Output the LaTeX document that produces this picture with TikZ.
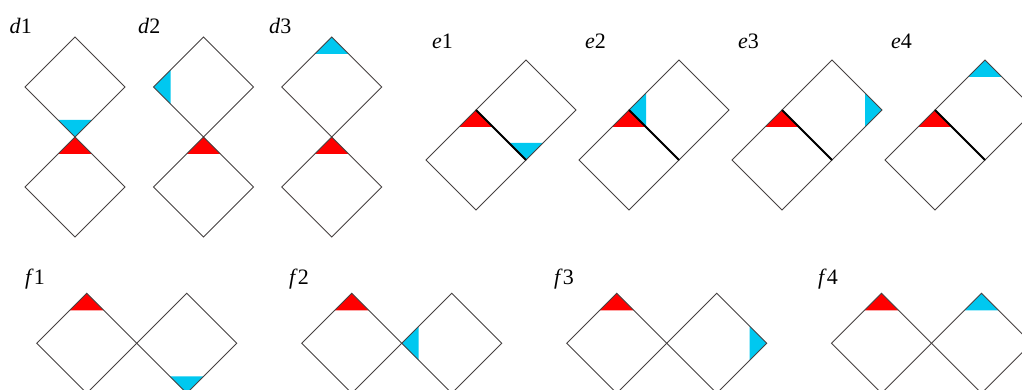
\documentclass[tikz,border=0pt]{standalone}
\usepackage{fontspec}
\setmainfont{Liberation Serif}
\definecolor{cyanb}{RGB}{0,200,240}
\definecolor{redt}{RGB}{255,0,0}
\definecolor{edge}{RGB}{70,65,65}
\begin{document}
\begin{tikzpicture}[x=1pt,y=-1pt,
  sq/.style={draw=edge,line width=0.9pt},
  shared/.style={draw=black,line width=1.8pt},
  redfill/.style={fill=redt},
  bluefill/.style={fill=cyanb},
  lab/.style={anchor=base west,inner sep=0pt,font=\fontsize{22}{24}\selectfont}]
\useasboundingbox (0,0) rectangle (1022,390);
\tikzset{
  diam/.pic={\draw[sq] (0,-50) -- (50,0) -- (0,50) -- (-50,0) -- cycle;},
  ttop/.pic={\fill (0,-50) -- (17,-33) -- (-17,-33) -- cycle;},
  tbot/.pic={\fill (0,50) -- (17,33) -- (-17,33) -- cycle;},
  tleft/.pic={\fill (-50,0) -- (-33,-17) -- (-33,17) -- cycle;},
  tright/.pic={\fill (50,0) -- (33,-17) -- (33,17) -- cycle;}
}
% ---------- d row ----------
\pic[bluefill] at (75,87) {tbot};
\pic[redfill] at (75,187) {ttop};
\pic at (75,87) {diam}; \pic at (75,187) {diam};
\node[lab] (ld1) at (9.5,33.3) {\textit{d}\/1};
\pic[bluefill] at (203.5,87) {tleft};
\pic[redfill] at (203.5,187) {ttop};
\pic at (203.5,87) {diam}; \pic at (203.5,187) {diam};
\node[lab] (ld2) at (138,33.3) {\textit{d}\/2};
\pic[bluefill] at (331.7,87) {ttop};
\pic[redfill] at (331.7,187) {ttop};
\pic at (331.7,87) {diam}; \pic at (331.7,187) {diam};
\node[lab] (ld3) at (269,33.3) {\textit{d}\/3};
% ---------- e row ----------
\foreach \cx/\t in {476/tbot, 629/tleft, 782/tright, 935/ttop}{
  \pic[redfill] at (\cx,160) {ttop};
  \pic[bluefill] at (\cx+50,110) {\t};
  \pic at (\cx,160) {diam};
  \pic at (\cx+50,110) {diam};
  \draw[shared] (\cx,110) -- (\cx+50,160);
}
\node[lab] (le1) at (432,48.7) {\textit{e}\/1};
\node[lab] (le2) at (585,48.7) {\textit{e}\/2};
\node[lab] (le3) at (738,48.7) {\textit{e}\/3};
\node[lab] (le4) at (891,48.7) {\textit{e}\/4};
% ---------- f row ----------
\foreach \cx/\t in {86.7/tbot, 351.7/tleft, 616.7/tright, 881.5/ttop}{
  \pic[redfill] at (\cx,343.3) {ttop};
  \pic[bluefill] at (\cx+100,343.3) {\t};
  \pic at (\cx,343.3) {diam};
  \pic at (\cx+100,343.3) {diam};
}
\node[lab] (lf1) at (25,284.5) {\textit{f}\/1};
\node[lab] (lf2) at (289,284.5) {\textit{f}\/2};
\node[lab] (lf3) at (554,284.5) {\textit{f}\/3};
\node[lab] (lf4) at (818,284.5) {\textit{f}\/4};
\end{tikzpicture}
\end{document}
